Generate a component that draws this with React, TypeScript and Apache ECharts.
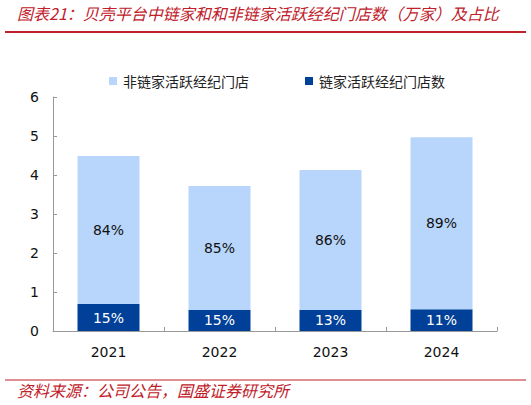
import React, { useEffect, useRef } from "react";
import * as echarts from "echarts";

const categories = ["2021", "2022", "2023", "2024"];
const nonLianjia = [3.8, 3.18, 3.59, 4.41];
const lianjia = [0.69, 0.54, 0.54, 0.56];
const nonLianjiaPct = ["84%", "85%", "86%", "89%"];
const lianjiaPct = ["15%", "15%", "13%", "11%"];
const yTicks = [0, 1, 2, 3, 4, 5, 6];

const RED = "#C0202A";
const LIGHT = "#B8D5FB";
const DARK = "#004098";
const NUM_FONT = "DejaVu Sans";
const CJK_FONT = "Noto Sans CJK SC";

export default function App() {
  const ref = useRef<HTMLDivElement>(null);
  useEffect(() => {
    if (!ref.current) return;
    const chart = echarts.init(ref.current, null, { renderer: "svg" });
    chart.setOption({
      animation: false,
      backgroundColor: "#fff",
      grid: { left: 53, right: 34, top: 97, bottom: 74, containLabel: false },
      legend: {
        left: 104,
        top: 69,
        itemWidth: 8,
        itemHeight: 8,
        itemGap: 56,
        icon: "rect",
        textStyle: { fontSize: 14, fontFamily: CJK_FONT, color: "#222", padding: [0, 0, 0, 1] },
        data: ["非链家活跃经纪门店", "链家活跃经纪门店数"],
      },
      xAxis: {
        type: "category",
        data: categories,
        axisLine: { lineStyle: { color: "#999", width: 1 } },
        axisTick: { show: true, inside: true, length: 4, lineStyle: { color: "#999" } },
        axisLabel: { fontSize: 14, fontFamily: NUM_FONT, color: "#111", margin: 14 },
      },
      yAxis: {
        type: "value",
        min: yTicks[0],
        max: yTicks[yTicks.length - 1],
        interval: 1,
        splitLine: { show: false },
        axisLine: { show: true, lineStyle: { color: "#999" } },
        axisTick: { show: true, inside: true, length: 4, lineStyle: { color: "#999" } },
        axisLabel: { fontSize: 14, fontFamily: NUM_FONT, color: "#111", margin: 14 },
      },
      series: [
        {
          name: "链家活跃经纪门店数",
          type: "bar",
          stack: "total",
          barWidth: 62,
          data: lianjia,
          itemStyle: { color: DARK },
          label: {
            show: true,
            position: "inside",
            color: "#fff",
            fontSize: 14,
            fontFamily: NUM_FONT,
            formatter: (p: any) => lianjiaPct[p.dataIndex],
          },
        },
        {
          name: "非链家活跃经纪门店",
          type: "bar",
          stack: "total",
          barWidth: 62,
          data: nonLianjia,
          itemStyle: { color: LIGHT },
          label: {
            show: true,
            position: "inside",
            color: "#111",
            fontSize: 14,
            fontFamily: NUM_FONT,
            formatter: (p: any) => nonLianjiaPct[p.dataIndex],
          },
        },
      ],
      graphic: [
        {
          type: "text",
          left: 17,
          top: 5,
          style: {
            text: "图表21：贝壳平台中链家和和非链家活跃经纪门店数（万家）及占比",
            fill: RED,
            fontSize: 16,
            fontStyle: "italic",
            fontFamily: CJK_FONT,
          },
        },
        {
          type: "line",
          shape: { x1: 5, y1: 32, x2: 526, y2: 32 },
          style: { stroke: RED, lineWidth: 2 },
        },
        {
          type: "line",
          shape: { x1: 5, y1: 380, x2: 526, y2: 380 },
          style: { stroke: RED, lineWidth: 1 },
        },
        {
          type: "text",
          left: 17,
          top: 382,
          style: {
            text: "资料来源：公司公告，国盛证券研究所",
            fill: RED,
            fontSize: 16,
            fontStyle: "italic",
            fontFamily: CJK_FONT,
          },
        },
      ],
    });
    return () => chart.dispose();
  }, []);
  return (
    <div
      ref={ref}
      style={{ position: "fixed", left: 0, top: 0, width: 531, height: 405 }}
    />
  );
}
